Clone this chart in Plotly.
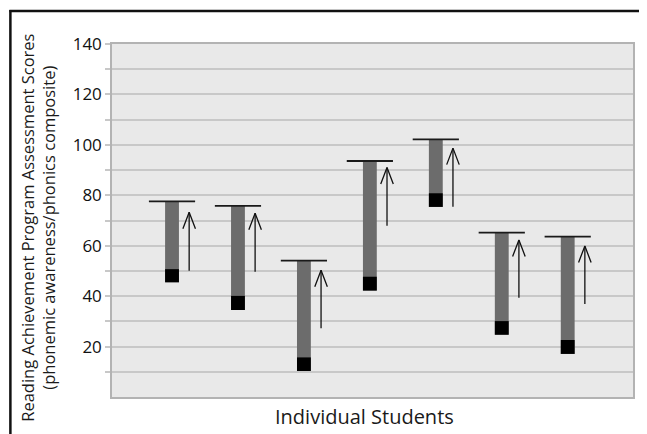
import plotly.graph_objects as go

# Data
students = [0, 1, 2, 3, 4, 5, 6]
pre_score = [45.5, 34.5, 10.3, 42.2, 75.4, 24.7, 17.1]
pre_marker_top = [50.7, 40.1, 15.7, 47.7, 80.8, 30.1, 22.6]
post_score = [77.6, 75.8, 54.1, 93.6, 102.2, 65.2, 63.6]
arrow_start = [50.1, 49.7, 27.3, 67.9, 75.5, 39.4, 36.9]
arrow_end = [73.3, 72.9, 50.3, 91.0, 98.7, 62.3, 59.9]
y_tick_vals = [10, 20, 30, 40, 50, 60, 70, 80, 90, 100, 110, 120, 130, 140]
y_tick_text = ["", "20", "", "40", "", "60", "", "80", "", "100", "", "120", "", "140"]

# page is drawn with an 8px body margin, so the figure is sized to fit the window
OFF = 8
PAGE_W, PAGE_H = 647, 434
W, H = PAGE_W - OFF, PAGE_H - OFF
PLOT_L, PLOT_R, PLOT_T, PLOT_B = 112, 635, 44, 397  # page pixels
ML = PLOT_L - OFF
MT = PLOT_T - OFF
MR = PAGE_W - PLOT_R
MB = PAGE_H - PLOT_B
PW = PLOT_R - PLOT_L
PH = PLOT_B - PLOT_T

X_RANGE = [-0.91, 6.99]
Y_RANGE = [0, 140]


def px_x(p):
    return (p - PLOT_L) / PW


def px_y(p):
    return (PLOT_B - p) / PH


FONT = "Open Sans"

fig = go.Figure()

fig.add_trace(go.Bar(
    x=students,
    base=pre_score,
    y=[b - a for a, b in zip(pre_score, post_score)],
    width=0.21,
    marker=dict(color="#6c6c6c", line=dict(width=0)),
    showlegend=False, hoverinfo="skip",
))
fig.add_trace(go.Bar(
    x=students,
    base=pre_score,
    y=[b - a for a, b in zip(pre_score, pre_marker_top)],
    width=0.21,
    marker=dict(color="#000000", line=dict(width=0)),
    showlegend=False, hoverinfo="skip",
))
fig.add_trace(go.Scatter(
    x=students,
    y=post_score,
    mode="markers",
    marker=dict(symbol="line-ew", size=33, line=dict(width=1.8, color="#1a1a1a")),
    showlegend=False, hoverinfo="skip",
))

# arrows: shaft + open chevron head
ARROW_DX = 0.26
x_per_px = (X_RANGE[1] - X_RANGE[0]) / PW
y_per_px = (Y_RANGE[1] - Y_RANGE[0]) / PH
head_hw = 6.3 * x_per_px
head_h = 16.5 * y_per_px
ax_pts, ay_pts = [], []
for s, a0, a1 in zip(students, arrow_start, arrow_end):
    xa = s + ARROW_DX
    ax_pts += [xa, xa, None, xa - head_hw, xa, xa + head_hw, None]
    ay_pts += [a0, a1, None, a1 - head_h, a1, a1 - head_h, None]
fig.add_trace(go.Scatter(
    x=ax_pts, y=ay_pts, mode="lines",
    line=dict(color="#111111", width=1.3),
    showlegend=False, hoverinfo="skip",
))

annotations = [
    dict(
        x=px_x(37.5), y=px_y(228), xref="paper", yref="paper",
        text="Reading Achievement Program Assessment Scores<br>(phonemic awareness/phonics composite)",
        textangle=-90, showarrow=False, xanchor="center", yanchor="middle",
        font=dict(family=FONT, size=16.5, color="#1a1a1a"),
    ),
    dict(
        x=px_x(365), y=px_y(416), xref="paper", yref="paper",
        text="Individual Students", showarrow=False,
        xanchor="center", yanchor="middle",
        font=dict(family=FONT, size=20, color="#1a1a1a"),
    ),
]

shapes = [
    dict(type="line", xref="paper", yref="paper",
         x0=px_x(9), x1=px_x(PAGE_W + 5), y0=px_y(11), y1=px_y(11),
         line=dict(color="#111111", width=2.5)),
    dict(type="line", xref="paper", yref="paper",
         x0=px_x(10), x1=px_x(10), y0=px_y(10), y1=px_y(PAGE_H + 5),
         line=dict(color="#111111", width=2.5)),
]

fig.update_layout(
    width=W, height=H,
    margin=dict(l=ML, r=MR, t=MT, b=MB),
    paper_bgcolor="white",
    plot_bgcolor="#e9e9e9",
    barmode="overlay",
    annotations=annotations,
    shapes=shapes,
    font=dict(family=FONT, color="#1a1a1a"),
)
fig.update_xaxes(
    range=X_RANGE, showgrid=False, zeroline=False,
    showticklabels=False, ticks="",
    showline=True, mirror=True, linecolor="#b3b3b3", linewidth=1.5,
)
fig.update_yaxes(
    range=Y_RANGE, tickmode="array", tickvals=y_tick_vals, ticktext=y_tick_text,
    showgrid=True, gridcolor="#c8c8c8", gridwidth=1.5, zeroline=False,
    ticks="outside", ticklen=5, tickcolor="#c8c8c8", tickwidth=1.5,
    tickfont=dict(family=FONT, size=17, color="#111111"),
    showline=True, mirror=True, linecolor="#b3b3b3", linewidth=1.5,
)

fig.write_html("out.html")
